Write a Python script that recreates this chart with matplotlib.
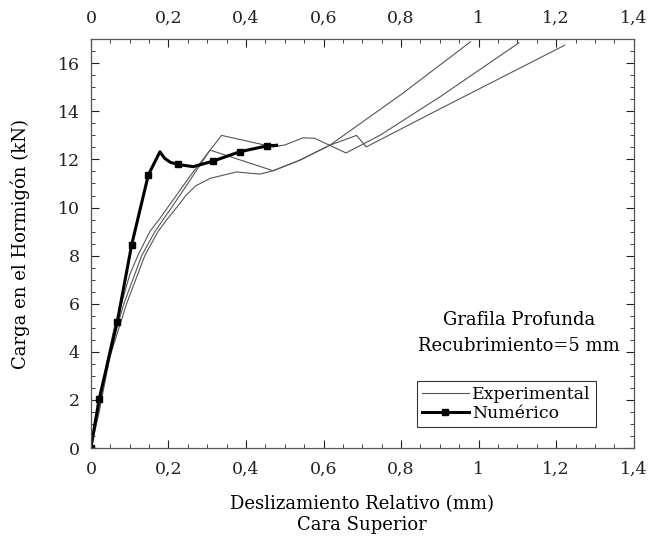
import matplotlib
matplotlib.use("Agg")
import matplotlib.pyplot as plt
from matplotlib.ticker import MultipleLocator, FuncFormatter

plt.rcParams['font.family'] = ['DejaVu Serif']

# experimental curves (three specimens)
exp1_x = [0, 0.02, 0.04, 0.06, 0.079, 0.10, 0.121, 0.152, 0.178, 0.26, 0.337, 0.47, 0.50, 0.547, 0.577, 0.658, 0.745, 0.90, 1.104]
exp1_y = [0, 1.6, 3.5, 5.0, 6.0, 7.2, 8.0, 9.0, 9.55, 11.4, 13.0, 12.52, 12.6, 12.9, 12.88, 12.27, 13.0, 14.6, 16.85]

exp2_x = [0, 0.02, 0.045, 0.085, 0.131, 0.165, 0.208, 0.25, 0.307, 0.47, 0.539, 0.616, 0.685, 0.71, 0.90, 1.222]
exp2_y = [0, 1.5, 3.8, 6.0, 8.0, 9.0, 10.0, 11.0, 12.39, 11.53, 11.97, 12.59, 13.0, 12.52, 14.1, 16.75]

exp3_x = [0, 0.02, 0.049, 0.092, 0.139, 0.173, 0.195, 0.221, 0.245, 0.27, 0.307, 0.375, 0.436, 0.47, 0.539, 0.616, 0.80, 0.979]
exp3_y = [0, 1.4, 3.8, 6.0, 8.0, 9.0, 9.48, 10.0, 10.5, 10.9, 11.21, 11.48, 11.39, 11.53, 11.97, 12.59, 14.7, 16.89]

# numerical model
num_x = [0, 0.021, 0.068, 0.105, 0.148, 0.178, 0.19, 0.205, 0.225, 0.264, 0.315, 0.384, 0.453, 0.479]
num_y = [0, 2.02, 5.25, 8.44, 11.35, 12.32, 12.05, 11.88, 11.79, 11.7, 11.93, 12.32, 12.56, 12.59]
num_marks = [0, 1, 2, 3, 4, 8, 10, 11, 12]

fig = plt.figure(figsize=(6.54, 5.37), dpi=100)
ax = fig.add_axes([0.139, 0.1657, 0.830, 0.7613])

exp_color = "#555555"
ax.plot(exp1_x, exp1_y, color=exp_color, lw=0.8, label="Experimental")
ax.plot(exp2_x, exp2_y, color=exp_color, lw=0.8)
ax.plot(exp3_x, exp3_y, color=exp_color, lw=0.8)
ax.plot(num_x, num_y, color="black", lw=2.2, marker="s", markersize=5,
        markevery=num_marks, label="Numérico")

ax.set_xlim(0, 1.4)
ax.set_ylim(0, 17)

comma = FuncFormatter(lambda v, p: ("%g" % round(v, 2)).replace(".", ","))
ax.xaxis.set_major_locator(MultipleLocator(0.2))
ax.xaxis.set_minor_locator(MultipleLocator(0.05))
ax.yaxis.set_major_locator(MultipleLocator(2))
ax.yaxis.set_minor_locator(MultipleLocator(0.5))
ax.xaxis.set_major_formatter(comma)
ax.tick_params(which="both", direction="in", top=True, right=True,
               labeltop=True, labelsize=12.5, colors="#222222")
ax.tick_params(axis="x", which="major", pad=9)
ax.tick_params(axis="y", which="major", pad=8)
ax.tick_params(which="major", length=6)
ax.tick_params(which="minor", length=3)

for s in ax.spines.values():
    s.set_color("#555555")
    s.set_linewidth(0.9)

ax.set_ylabel("Carga en el Hormigón (kN)", fontsize=13, labelpad=20)
ax.set_xlabel("Deslizamiento Relativo (mm)\nCara Superior", fontsize=13,
              linespacing=1.2, labelpad=13)

ax.text(0.788, 0.313, "Grafila Profunda", transform=ax.transAxes,
        ha="center", va="center", fontsize=13)
ax.text(0.788, 0.249, "Recubrimiento=5 mm", transform=ax.transAxes,
        ha="center", va="center", fontsize=13)

leg = ax.legend(loc="lower left", bbox_to_anchor=(0.6, 0.051), fontsize=12.5,
                frameon=True, fancybox=False, edgecolor="black",
                handlelength=2.7, handletextpad=0.2, borderpad=0.3,
                labelspacing=0.1, borderaxespad=0)
leg.get_frame().set_linewidth(0.8)

fig.savefig("out.png", dpi=100)
